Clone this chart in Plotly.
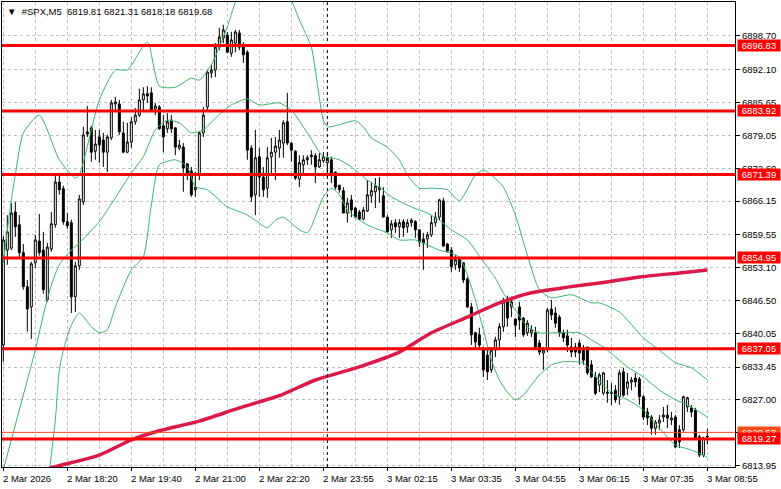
import plotly.graph_objects as go

# ---------------- data ----------------
opens = [6837.8,6856.5,6856.9,6864.0,6861.5,6856.0,6849.3,6845.3,6854.0,6858.3,
         6856.5,6846.7,6856.7,6861.5,6869.9,6868.6,6862.1,6861.9,6847.3,6853.4,
         6866.0,6879.8,6880.6,6876.0,6878.8,6878.2,6875.8,6878.6,6885.3,6885.3,
         6879.6,6875.8,6877.8,6881.8,6883.1,6886.1,6887.3,6887.5,6884.3,6884.7,
         6881.0,6880.4,6882.1,6880.6,6876.6,6876.8,6873.5,6872.1,6868.4,6871.3,
         6879.6,6884.7,6891.4,6892.0,6896.5,6898.3,6898.9,6895.3,6897.3,6899.3,
         6896.5,6895.5,6876.6,6867.4,6874.9,6870.9,6868.7,6874.9,6875.8,6876.6,
         6877.6,6881.8,6877.6,6876.0,6870.5,6873.3,6874.3,6874.9,6875.1,6872.9,
         6874.1,6873.7,6874.3,6871.9,6869.3,6868.2,6863.8,6866.4,6864.8,6864.0,
         6862.6,6864.2,6867.2,6868.0,6868.4,6867.2,6863.0,6860.5,6861.9,6861.1,
         6862.1,6861.1,6861.9,6862.1,6860.5,6858.7,6858.7,6859.5,6861.9,6863.0,
         6866.2,6857.7,6856.5,6853.6,6855.0,6854.0,6850.8,6845.3,6840.2,6839.8,
         6836.8,6835.8,6832.9,6836.8,6838.8,6841.4,6846.3,6845.3,6842.9,6845.3,
         6843.1,6840.2,6840.2,6840.2,6838.2,6836.2,6836.8,6844.9,6844.1,6843.3,
         6840.2,6839.6,6837.4,6837.4,6838.2,6837.2,6837.4,6833.9,6831.5,6829.9,
         6828.3,6828.5,6828.5,6828.9,6827.6,6832.5,6829.3,6830.5,6831.3,6831.1,
         6827.6,6824.6,6823.6,6821.4,6822.4,6823.6,6824.0,6823.0,6823.6,6821.1,
         6821.1,6825.6,6825.4,6825.0,6819.7,6816.1,6819.81]
highs = [6859.3,6863.4,6865.8,6866.0,6863.4,6857.7,6850.6,6854.2,6859.5,6863.6,
         6860.1,6857.9,6864.0,6871.3,6871.7,6869.2,6863.8,6862.5,6854.2,6867.4,
         6880.8,6884.9,6881.0,6880.2,6880.2,6879.6,6879.2,6886.1,6886.7,6886.1,
         6881.8,6881.6,6882.7,6884.5,6888.3,6888.6,6888.8,6888.6,6885.5,6885.1,
         6883.1,6883.5,6883.1,6880.6,6878.2,6877.6,6873.7,6872.9,6871.9,6879.8,
         6884.7,6892.0,6893.0,6897.3,6900.3,6900.9,6899.5,6899.5,6899.9,6899.9,
         6897.5,6895.9,6877.2,6880.2,6876.6,6872.9,6876.8,6878.6,6878.8,6880.2,
         6882.1,6887.5,6877.8,6876.2,6875.2,6875.2,6875.2,6876.2,6875.6,6875.6,
         6875.8,6875.6,6874.9,6871.9,6869.3,6868.9,6866.8,6867.4,6865.0,6864.4,
         6865.0,6870.3,6869.7,6870.7,6870.9,6868.9,6863.4,6862.4,6862.6,6862.6,
         6862.6,6862.6,6862.8,6862.4,6860.5,6859.9,6860.1,6863.4,6864.0,6866.6,
         6866.8,6857.9,6857.1,6855.5,6855.1,6854.0,6851.2,6846.1,6840.4,6841.2,
         6837.4,6836.8,6837.4,6839.4,6842.1,6847.1,6847.5,6847.3,6843.1,6846.3,
         6843.3,6842.7,6841.7,6841.4,6838.8,6837.4,6845.1,6846.7,6845.3,6843.7,
         6840.8,6840.8,6839.2,6838.2,6838.8,6837.8,6837.4,6834.8,6832.5,6832.3,
         6832.5,6830.9,6830.3,6829.9,6832.9,6833.3,6832.3,6831.5,6832.3,6831.5,
         6827.9,6825.4,6824.0,6823.0,6824.0,6825.6,6826.0,6824.6,6824.0,6822.0,
         6827.8,6827.6,6826.0,6825.4,6820.1,6819.7,6821.31]
lows = [6834.5,6853.6,6856.5,6859.1,6855.0,6848.7,6840.4,6839.0,6853.0,6855.4,
        6847.9,6846.3,6856.2,6860.9,6867.4,6861.5,6860.7,6844.1,6844.3,6852.6,
        6865.4,6878.8,6873.9,6874.3,6873.7,6872.9,6871.9,6878.2,6884.1,6879.2,
        6875.6,6875.6,6876.6,6881.2,6882.7,6884.1,6885.5,6883.7,6883.1,6880.2,
        6875.8,6879.6,6879.6,6875.2,6876.2,6868.0,6870.3,6867.0,6867.0,6870.3,
        6878.8,6884.1,6890.4,6890.6,6895.9,6897.3,6895.3,6894.6,6895.5,6895.9,
        6893.4,6874.3,6866.0,6863.4,6867.0,6867.0,6866.8,6871.3,6870.3,6874.7,
        6874.7,6877.2,6873.9,6870.3,6868.9,6871.3,6873.3,6873.3,6869.7,6872.7,
        6873.7,6870.9,6869.7,6868.4,6867.8,6863.8,6861.9,6863.0,6862.8,6862.4,
        6862.4,6864.0,6865.8,6864.8,6865.8,6863.0,6859.9,6858.9,6859.9,6858.9,
        6859.1,6859.9,6861.1,6858.9,6857.1,6852.6,6856.9,6859.1,6861.1,6862.4,
        6857.1,6856.0,6852.2,6852.6,6852.2,6850.0,6845.1,6837.8,6836.8,6836.8,
        6831.5,6830.9,6832.3,6835.4,6836.8,6840.4,6841.4,6843.3,6839.4,6840.8,
        6839.4,6839.6,6839.4,6837.2,6835.8,6832.9,6836.4,6842.7,6841.2,6839.4,
        6838.4,6836.4,6835.4,6835.4,6833.9,6833.9,6831.9,6831.3,6827.9,6828.5,
        6827.9,6826.4,6826.0,6826.4,6826.0,6827.6,6827.9,6828.9,6829.5,6826.0,
        6823.0,6822.0,6820.1,6820.1,6821.1,6822.6,6821.4,6822.0,6817.5,6817.5,
        6820.7,6824.6,6823.6,6819.3,6815.7,6815.7,6818.18]
closes = [6858.5,6860.1,6863.8,6861.1,6856.0,6849.3,6844.9,6853.8,6858.5,6856.0,
          6848.7,6857.1,6861.7,6869.9,6868.4,6862.1,6861.3,6847.3,6853.4,6866.6,
          6879.2,6879.4,6875.8,6877.4,6877.2,6875.8,6878.8,6885.5,6885.7,6879.8,
          6875.8,6877.8,6881.8,6883.1,6886.1,6887.3,6886.9,6884.1,6884.9,6880.4,
          6878.8,6881.8,6880.4,6876.8,6877.2,6872.7,6871.7,6867.4,6868.9,6879.6,
          6883.1,6891.6,6892.0,6896.5,6898.5,6899.9,6895.5,6897.9,6899.5,6896.5,
          6895.0,6876.2,6867.0,6874.7,6870.9,6868.4,6874.7,6875.8,6877.0,6878.2,
          6881.6,6877.6,6876.2,6870.7,6873.7,6874.3,6874.7,6875.2,6872.9,6874.3,
          6874.9,6874.7,6871.7,6868.9,6868.4,6863.8,6865.8,6864.4,6863.0,6862.6,
          6864.4,6867.4,6868.2,6869.1,6868.9,6863.0,6860.1,6861.7,6861.1,6861.9,
          6860.9,6861.9,6862.4,6860.5,6858.1,6857.9,6859.5,6861.9,6863.0,6866.4,
          6857.3,6856.3,6853.2,6854.6,6853.0,6850.6,6845.3,6839.8,6838.4,6837.8,
          6832.9,6832.5,6836.8,6838.8,6841.4,6846.3,6843.1,6846.3,6841.7,6842.7,
          6839.8,6842.1,6840.8,6837.4,6836.4,6836.8,6844.7,6843.7,6842.1,6840.2,
          6839.2,6837.8,6836.4,6836.4,6836.2,6834.8,6832.3,6831.5,6828.3,6831.9,
          6832.3,6828.3,6828.3,6827.0,6832.3,6827.9,6830.5,6830.9,6830.5,6827.6,
          6823.6,6823.4,6821.4,6822.6,6823.0,6824.0,6823.4,6823.4,6817.7,6818.7,
          6827.6,6827.4,6824.6,6819.5,6816.1,6819.5,6819.68]

# Bollinger bands (read at sample bars)
bb_up_idx = [0,2,3,5,9,14,18,19,24,28,31,36,39,43,47,49,52,56,58,60,64,68,72,74,77,78,80,81,84,88,90,92,96,99,101,
             104,107,111,114,118,120,122,125,128,131,134,137,142,147,149,154,160,164,168,172,176]
bb_up = [6854.0,6866.4,6871.3,6879.6,6883.1,6874.3,6870.7,6871.3,6886.1,6892.0,6892.0,6897.5,6888.8,6888.6,6890.4,
         6890.0,6893.0,6900.5,6905.4,6909.0,6912.0,6911.0,6905.8,6901.9,6896.5,6892.0,6882.1,6880.8,6881.2,6882.0,
         6880.8,6878.6,6876.8,6874.3,6871.3,6868.7,6868.7,6868.4,6866.2,6871.3,6872.3,6871.3,6868.9,6863.4,6855.5,
         6848.7,6847.1,6847.7,6846.1,6846.1,6844.3,6839.2,6836.8,6834.3,6833.3,6830.9]
bb_mid_idx = [0,4,8,10,12,14,17,19,24,28,32,35,38,41,44,47,50,53,57,61,64,69,72,76,80,82,84,87,91,94,97,102,106,
              109,112,116,120,123,125,128,131,134,138,144,147,150,156,160,164,168,171,174,176]
bb_mid = [6813.2,6825.0,6836.8,6843.7,6849.6,6853.6,6856.5,6857.9,6862.1,6866.8,6871.7,6874.9,6880.2,6882.1,6881.6,
          6879.6,6880.2,6882.5,6885.1,6886.3,6885.1,6885.5,6884.1,6879.6,6874.9,6874.7,6874.3,6872.9,6870.3,6868.9,
          6867.0,6865.0,6863.8,6862.4,6860.5,6858.5,6854.2,6851.0,6848.0,6844.7,6841.4,6840.2,6840.2,6840.2,6838.8,
          6837.4,6833.5,6831.5,6828.9,6827.0,6826.0,6824.6,6823.6]
bb_low_idx = [11,12,13,14,15,17,19,22,24,26,28,32,35,37,39,43,46,48,51,56,58,61,63,66,68,70,74,76,77,80,82,84,86,
              89,92,96,99,103,106,109,112,114,116,118,120,122,124,126,128,130,132,134,137,140,143,145,147,150,152,
              156,160,164,168,172,176]
bb_low = [6809.2,6816.2,6823.0,6832.9,6836.8,6841.7,6844.1,6841.4,6840.2,6840.8,6845.3,6852.6,6855.2,6865.4,6873.3,
          6874.3,6872.9,6869.0,6868.4,6865.0,6864.4,6863.4,6862.4,6860.9,6862.4,6863.0,6860.5,6859.9,6861.1,6867.0,
          6868.7,6867.4,6864.4,6862.4,6861.1,6859.9,6858.5,6858.5,6857.5,6856.5,6855.9,6855.1,6851.6,6846.7,6840.8,
          6834.9,6830.9,6828.5,6827.0,6827.9,6829.9,6831.9,6833.9,6834.5,6834.5,6834.3,6832.5,6829.9,6828.4,6827.0,
          6825.0,6821.4,6818.1,6817.1,6815.7]

# moving average (read at sample bars)
ma_idx = [0,13,24,32,39,49,59,69,78,89,99,107,116,124,132,141,149,159,169,176]
ma_vals = [6810.8,6813.8,6816.1,6819.1,6820.9,6822.8,6825.4,6827.8,6830.9,6833.5,6836.4,6840.2,6843.3,6846.1,
           6848.1,6849.2,6850.0,6851.2,6852.0,6852.6]

levels = [6896.83, 6883.92, 6871.39, 6854.95, 6837.05, 6819.27]
bid_level = 6820.58

y_ticks = [6813.95, 6820.50, 6827.00, 6833.45, 6840.05, 6846.50, 6853.10,
           6859.55, 6866.15, 6872.60, 6879.05, 6885.65, 6892.10, 6898.70]

time_idx = [0, 16, 32, 48, 64, 80, 96, 112, 128, 144, 160, 176]
time_labels = ["2 Mar 2026", "2 Mar 18:20", "2 Mar 19:40", "2 Mar 21:00", "2 Mar 22:20",
               "2 Mar 23:55", "3 Mar 02:15", "3 Mar 03:35", "3 Mar 04:55", "3 Mar 06:15",
               "3 Mar 07:35", "3 Mar 08:55"]
day_sep_idx = 81

title_text = "▼  #SPX,M5  6819.81 6821.31 6818.18 6819.68"

# ---------------- figure ----------------
FONT = "Liberation Sans, Arial, sans-serif"
FS = 9.5
GRID = "#c0c0c0"
GREEN = "#3cb371"

bars = list(range(len(opens)))

fig = go.Figure()
fig.add_trace(go.Candlestick(
    x=bars, open=opens, high=highs, low=lows, close=closes,
    increasing=dict(fillcolor="white", line=dict(color="black", width=1)),
    decreasing=dict(fillcolor="black", line=dict(color="black", width=1)),
    whiskerwidth=0, showlegend=False, hoverinfo="skip"))

for xi, yv in ((bb_up_idx, bb_up), (bb_mid_idx, bb_mid), (bb_low_idx, bb_low)):
    fig.add_trace(go.Scatter(x=xi, y=yv, mode="lines",
                             line=dict(color=GREEN, width=1, shape="spline", smoothing=0.6),
                             showlegend=False, hoverinfo="skip"))

fig.add_trace(go.Scatter(x=ma_idx, y=ma_vals, mode="lines",
                         line=dict(color="#dc1848", width=3.5, shape="spline", smoothing=0.6),
                         showlegend=False, hoverinfo="skip"))

shapes = []
shapes.append(dict(type="line", xref="x", yref="paper", x0=day_sep_idx, x1=day_sep_idx, y0=0, y1=1,
                   line=dict(color="black", width=1, dash="3px,3px")))
shapes.append(dict(type="line", xref="paper", yref="y", x0=0, x1=1, y0=bid_level, y1=bid_level,
                   line=dict(color="#ff4a1a", width=1)))
for lv in levels:
    shapes.append(dict(type="line", xref="paper", yref="y", x0=0, x1=1, y0=lv, y1=lv,
                       line=dict(color="#ff0000", width=3)))

annotations = []
annotations.append(dict(xref="paper", yref="y", x=1, y=bid_level, xanchor="left", yanchor="middle",
                        xshift=2, text=f"{bid_level:.2f}", showarrow=False, bgcolor="#ff4a1a",
                        font=dict(family=FONT, size=FS, color="white"), width=42, height=11, borderpad=0))
for lv in levels:
    annotations.append(dict(xref="paper", yref="y", x=1, y=lv, xanchor="left", yanchor="middle",
                            xshift=2, text=f"{lv:.2f}", showarrow=False, bgcolor="#ff0000",
                            font=dict(family=FONT, size=FS, color="white"), width=42, height=11, borderpad=0))
for ti, tl in zip(time_idx, time_labels):
    annotations.append(dict(xref="x", yref="paper", x=ti, y=0, xanchor="left", yanchor="middle",
                            xshift=-2, yshift=-11, text=tl, showarrow=False,
                            font=dict(family=FONT, size=FS, color="black")))
annotations.append(dict(xref="paper", yref="paper", x=0, y=1, xanchor="left", yanchor="middle",
                        xshift=3, yshift=-9, text=title_text, showarrow=False,
                        font=dict(family=FONT, size=FS, color="black")))

fig.update_layout(
    width=781, height=489,
    margin=dict(l=2, r=46, t=2, b=22),
    paper_bgcolor="white", plot_bgcolor="white",
    shapes=shapes, annotations=annotations,
    showlegend=False,
    xaxis=dict(range=[-0.33, 182.9], rangeslider=dict(visible=False),
               tickmode="array", tickvals=time_idx, showticklabels=False,
               ticks="outside", ticklen=3, tickcolor="black",
               showgrid=True, gridcolor=GRID, griddash="3px,3px", gridwidth=1,
               minor=dict(tickmode="linear", tick0=0, dtick=8, showgrid=True,
                          gridcolor=GRID, griddash="3px,3px", gridwidth=1, ticks=""),
               showline=True, linecolor="black", linewidth=1, mirror=True,
               zeroline=False, automargin=False, fixedrange=True),
    yaxis=dict(range=[6813.75, 6905.4], side="right",
               tickmode="array", tickvals=y_ticks, ticktext=[f"{v:.2f}" for v in y_ticks],
               ticks="outside", ticklen=4, tickcolor="black",
               tickfont=dict(family=FONT, size=FS, color="black"),
               showgrid=True, gridcolor=GRID, griddash="3px,3px", gridwidth=1,
               showline=True, linecolor="black", linewidth=1, mirror=True,
               zeroline=False, automargin=False, fixedrange=True),
)

fig.write_html("out.html", config={"displayModeBar": False},
               post_script="document.body.style.margin='0px';document.body.style.overflow='hidden';")
